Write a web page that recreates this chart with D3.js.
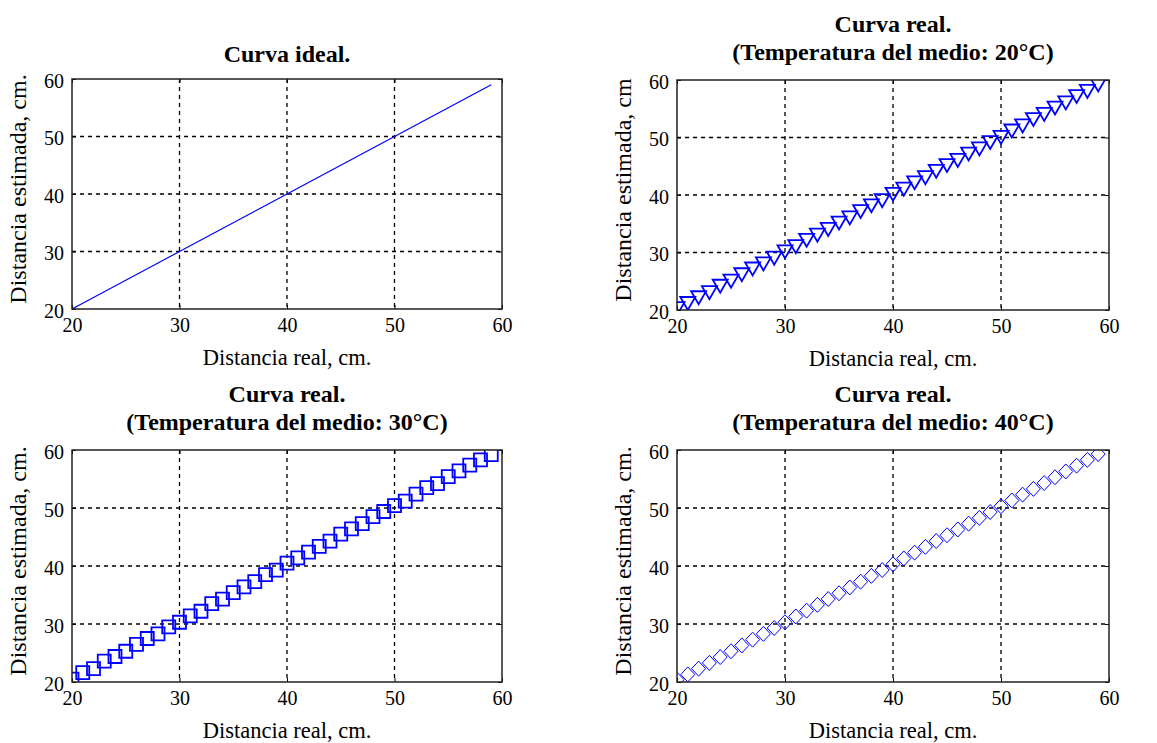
<!DOCTYPE html>
<html>
<head>
<meta charset="utf-8">
<script src="https://cdn.jsdelivr.net/npm/d3@7"></script>
<style>
  body { margin: 0; background: #fff; }
  svg { display: block; font-family: "Liberation Serif", "Times New Roman", serif; }
</style>
</head>
<body>
<div class="graph"></div>
<script>
// distancia real (cm)
const distReal = [20,21,22,23,24,25,26,27,28,29,30,31,32,33,34,35,36,37,38,39,
                  40,41,42,43,44,45,46,47,48,49,50,51,52,53,54,55,56,57,58,59];
// curva ideal
const estIdeal = [20,21,22,23,24,25,26,27,28,29,30,31,32,33,34,35,36,37,38,39,
                  40,41,42,43,44,45,46,47,48,49,50,51,52,53,54,55,56,57,58,59];
// temperatura 20 C
const est20 = [20.4,21.3,22.3,23.2,24.3,25.2,26.3,27.3,28.2,29.2,30.3,31.2,32.3,33.2,34.2,35.3,36.2,37.3,38.3,39.2,
               40.3,41.2,42.3,43.2,44.3,45.3,46.2,47.3,48.2,49.3,50.2,51.3,52.2,53.3,54.2,55.3,56.2,57.3,58.2,59.3];
// temperatura 30 C
const est30 = [20.5,21.6,22.3,23.6,24.4,25.3,26.5,27.5,28.3,29.5,30.3,31.4,32.2,33.5,34.3,35.4,36.4,37.3,38.5,39.3,
               40.5,41.4,42.4,43.4,44.3,45.5,46.4,47.3,48.5,49.4,50.4,51.2,52.4,53.5,54.2,55.4,56.4,57.4,58.3,59.2];
// temperatura 40 C
const est40 = [20.4,21.3,22.3,23.3,24.3,25.3,26.3,27.3,28.3,29.3,30.3,31.3,32.3,33.3,34.3,35.3,36.3,37.3,38.3,39.3,
               40.3,41.3,42.3,43.3,44.3,45.3,46.3,47.3,48.3,49.3,50.3,51.3,52.3,53.3,54.3,55.3,56.3,57.3,58.3,59.3];

const ticks = [20, 30, 40, 50, 60];
const titles = [
  ['Curva ideal.'],
  ['Curva real.', '(Temperatura del medio: 20°C)'],
  ['Curva real.', '(Temperatura del medio: 30°C)'],
  ['Curva real.', '(Temperatura del medio: 40°C)']
];
const yLabels = ['Distancia estimada, cm.', 'Distancia estimada, cm', 'Distancia estimada, cm.', 'Distancia estimada, cm.'];
const xLabel = 'Distancia real, cm.';
const series = [estIdeal, est20, est30, est40];
const markers = ['line', 'triangle', 'square', 'diamond'];

const w = 1157;
const h = 743;
const boxes = [
  { left: 72, right: 502, top: 79, bottom: 309 },
  { left: 677, right: 1109, top: 80, bottom: 310 },
  { left: 72, right: 502, top: 450, bottom: 682 },
  { left: 677, right: 1109, top: 450, bottom: 682 }
];
const blue = '#0000ff';

const svg = d3.select('.graph')
  .append('svg')
  .attr('width', w)
  .attr('height', h);

boxes.forEach((b, i) => {
  const xScale = d3.scaleLinear().domain([20, 60]).range([b.left, b.right]);
  const yScale = d3.scaleLinear().domain([20, 60]).range([b.bottom, b.top]);
  const g = svg.append('g');

  g.append('clipPath')
    .attr('id', 'clip' + i)
    .append('rect')
    .attr('x', b.left).attr('y', b.top)
    .attr('width', b.right - b.left).attr('height', b.bottom - b.top);

  // grid
  const inner = ticks.slice(1, -1);
  g.selectAll('.gx').data(inner).enter().append('line')
    .attr('x1', (d) => xScale(d)).attr('x2', (d) => xScale(d))
    .attr('y1', b.top).attr('y2', b.bottom)
    .attr('stroke', '#000').attr('stroke-width', 1.3).attr('stroke-dasharray', '4,4');
  g.selectAll('.gy').data(inner).enter().append('line')
    .attr('y1', (d) => yScale(d)).attr('y2', (d) => yScale(d))
    .attr('x1', b.left).attr('x2', b.right)
    .attr('stroke', '#000').attr('stroke-width', 1.3).attr('stroke-dasharray', '4,4');

  // data
  const pts = distReal.map((x, k) => [x, series[i][k]]);
  const plot = g.append('g').attr('clip-path', `url(#clip${i})`);
  if (markers[i] === 'line') {
    plot.append('path')
      .attr('d', d3.line().x((d) => xScale(d[0])).y((d) => yScale(d[1]))(pts))
      .attr('fill', 'none').attr('stroke', blue).attr('stroke-width', 1.2);
  } else {
    const shape = {
      triangle: 'M-7.5,-5.5L7.5,-5.5L0,7.5Z',
      square: 'M-6.5,-6.5L6.5,-6.5L6.5,6.5L-6.5,6.5Z',
      diamond: 'M0,-7.5L7,0L0,7.5L-7,0Z'
    }[markers[i]];
    plot.selectAll('.m').data(pts).enter().append('path')
      .attr('transform', (d) => `translate(${xScale(d[0])},${yScale(d[1])})`)
      .attr('d', shape)
      .attr('fill', 'none')
      .attr('stroke', blue)
      .attr('stroke-width', markers[i] === 'diamond' ? 1 : 1.8);
  }

  // axes (ticks inside, box around)
  g.append('g')
    .attr('transform', `translate(0, ${b.bottom})`)
    .call(d3.axisBottom(xScale).tickValues(ticks).tickSize(-4).tickPadding(9))
    .call((a) => a.select('.domain').remove())
    .call((a) => a.selectAll('text').attr('font-size', 20).attr('font-family', 'Liberation Serif').attr('fill', '#000'));
  g.append('g')
    .attr('transform', `translate(${b.left}, 0)`)
    .call(d3.axisLeft(yScale).tickValues(ticks).tickSize(-4).tickPadding(8))
    .call((a) => a.select('.domain').remove())
    .call((a) => a.selectAll('text').attr('font-size', 20).attr('font-family', 'Liberation Serif').attr('fill', '#000').attr('dy', '0.4em'));
  g.append('g')
    .attr('transform', `translate(0, ${b.top})`)
    .call(d3.axisTop(xScale).tickValues(ticks).tickSize(-4).tickFormat(''))
    .call((a) => a.select('.domain').remove());
  g.append('g')
    .attr('transform', `translate(${b.right}, 0)`)
    .call(d3.axisRight(yScale).tickValues(ticks).tickSize(-4).tickFormat(''))
    .call((a) => a.select('.domain').remove());

  g.append('rect')
    .attr('x', b.left).attr('y', b.top)
    .attr('width', b.right - b.left).attr('height', b.bottom - b.top)
    .attr('fill', 'none').attr('stroke', '#222').attr('stroke-width', 1.5);

  // titles
  const cx = (b.left + b.right) / 2;
  const lines = titles[i];
  lines.forEach((t, k) => {
    g.append('text')
      .attr('x', cx)
      .attr('y', b.top - 17 - 28 * (lines.length - 1 - k) - (lines.length > 1 ? 3 : 0))
      .attr('text-anchor', 'middle')
      .attr('font-size', 24)
      .attr('font-weight', 'bold')
      .text(t);
  });

  g.append('text')
    .attr('x', cx)
    .attr('y', b.bottom + 56)
    .attr('text-anchor', 'middle')
    .attr('font-size', 22.5)
    .text(xLabel);

  g.append('text')
    .attr('transform', `translate(${b.left - 46}, ${(b.top + b.bottom) / 2 - 5}) rotate(-90)`)
    .attr('text-anchor', 'middle')
    .attr('font-size', 24)
    .text(yLabels[i]);
});
</script>
</body>
</html>
